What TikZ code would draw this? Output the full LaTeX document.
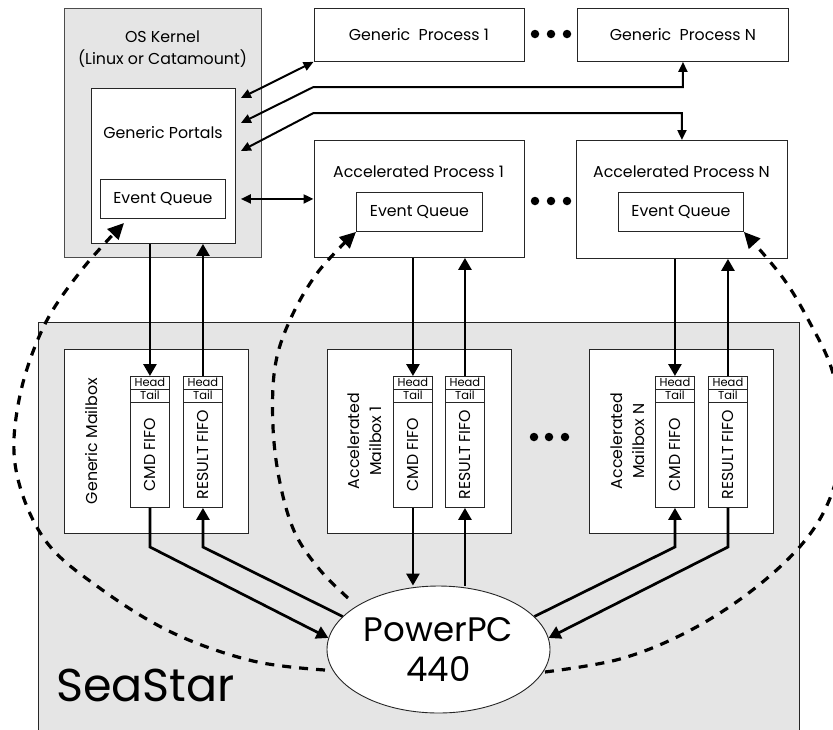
\documentclass[tikz,border=0pt]{standalone}
\usepackage{fontspec}
\setmainfont{Poppins}
\usetikzlibrary{arrows.meta,shapes.geometric,calc}
\definecolor{seagray}{RGB}{229,229,229}
\newcommand{\fifobox}[3]{%
  \node[box,minimum width=39pt,minimum height=131pt] (#1) at (#2,376) {};
  \draw[rowline] ([yshift=-13pt]#1.north west) -- ([yshift=-13pt]#1.north east);
  \draw[rowline] ([yshift=-26pt]#1.north west) -- ([yshift=-26pt]#1.north east);
  \node[tiny] (#1h) at ([yshift=-6.5pt]#1.north) {Head};
  \node[tiny] (#1t) at ([yshift=-19.5pt]#1.north) {Tail};
  \node[lbl,rotate=90] (#1l) at ([yshift=-78.5pt]#1.north) {#3};
}
\begin{document}
\begin{tikzpicture}[x=1pt,y=-1pt,
  box/.style={draw=black!85,line width=0.9pt,fill=white,inner sep=0pt,anchor=north west},
  rowline/.style={draw=black!85,line width=0.9pt},
  lbl/.style={font=\fontsize{15.8}{22}\selectfont,inner sep=0pt,align=center},
  tiny/.style={font=\fontsize{11.5}{12}\selectfont,inner sep=0pt},
  arr/.style={line width=2.7pt,-{Triangle[length=12pt,width=13pt]}},
  darr/.style={line width=2pt,{Triangle[length=10pt,width=9pt]}-{Triangle[length=10pt,width=9pt]}},
  dsh/.style={line width=3.2pt,dash pattern=on 9pt off 8pt,-{Triangle[length=16pt,width=15pt]}},
  dotn/.style={circle,fill=black,inner sep=0pt,minimum size=8.5pt}]
\useasboundingbox (0,0) rectangle (833,729);
% SeaStar chip
\node[box,fill=seagray,minimum width=761pt,minimum height=420pt] (seastar) at (38,322) {};
\node[font=\fontsize{46}{50}\selectfont,anchor=west,inner sep=0pt] (sst) at (56,685) {SeaStar};
% OS kernel
\node[box,fill=seagray,draw=black!70,minimum width=197pt,minimum height=249pt] (kernel) at (64,8) {};
\node[lbl] (kt) at (162.5,49) {OS Kernel\\(Linux or Catamount)};
\node[box,minimum width=144pt,minimum height=155pt] (portals) at (91,88) {};
\node[lbl] (pt) at (163,133) {Generic Portals};
\node[box,minimum width=125pt,minimum height=39pt] (eqk) at (100,179) {};
\node[lbl] at (eqk.center) {Event Queue};
% processes
\node[box,minimum width=210pt,minimum height=53pt] (gp1) at (313.5,8) {};
\node[lbl] at (gp1.center) {Generic\ \ Process 1};
\node[box,minimum width=211pt,minimum height=53pt] (gpn) at (577,8) {};
\node[lbl] at (gpn.center) {Generic\ \ Process N};
\node[box,minimum width=210pt,minimum height=117pt] (ap1) at (313.5,140) {};
\node[lbl] (ap1t) at (418.5,172) {Accelerated Process 1};
\node[box,minimum width=126pt,minimum height=39pt] (eq1) at (356,192) {};
\node[lbl] at (eq1.center) {Event Queue};
\node[box,minimum width=211pt,minimum height=118pt] (apn) at (576,140) {};
\node[lbl] (apnt) at (681.5,172) {Accelerated Process N};
\node[box,minimum width=125pt,minimum height=39pt] (eqn) at (618,192) {};
\node[lbl] at (eqn.center) {Event Queue};
% dots
\foreach \i/\x in {1/535,2/551,3/567}{
  \node[dotn] (dt\i) at (\x,34) {};
  \node[dotn] (dm\i) at (\x,201) {};
}
\foreach \i/\x in {1/534,2/549,3/565}{
  \node[dotn] (db\i) at (\x,437) {};
}
% mailboxes
\node[box,minimum width=184pt,minimum height=184pt] (mbg) at (64,349) {};
\node[lbl,rotate=90] (mbgt) at (92,441) {Generic Mailbox};
\node[box,minimum width=184pt,minimum height=184pt] (mb1) at (327,349) {};
\node[lbl,rotate=90] (mb1t) at (365,441) {Accelerated\\Mailbox 1};
\node[box,minimum width=184pt,minimum height=184pt] (mbn) at (589,349) {};
\node[lbl,rotate=90] (mbnt) at (627.5,441) {Accelerated\\Mailbox N};
\fifobox{cmdg}{130}{CMD FIFO}
\fifobox{resg}{183}{RESULT FIFO}
\fifobox{cmd1}{393}{CMD FIFO}
\fifobox{res1}{445}{RESULT FIFO}
\fifobox{cmdn}{655}{CMD FIFO}
\fifobox{resn}{708}{RESULT FIFO}
% dashed event paths
\draw[dsh] plot[smooth,tension=0.6] coordinates {(325,670) (253,661) (173,633) (101,589) (45,540) (16,470) (19,400) (43,328) (80,272) (124,223)};
\draw[dsh] plot[smooth,tension=0.6] coordinates {(348,598) (320,570) (295,533) (280,483) (273,427) (275,367) (290,320) (318,272) (eq1.south west)};
\draw[dsh] plot[smooth,tension=0.6] coordinates {(545,672) (620,659) (687,632) (750,592) (803,543) (832,493) (844,431) (832,370) (810,323) (783,278) (eqn.south east)};
% PowerPC
\node[draw=black!85,line width=0.9pt,fill=white,ellipse,minimum width=223pt,minimum height=127pt,inner sep=0pt,
  font=\fontsize{34}{40}\selectfont,align=center] (ppc) at (438.5,649.5) {PowerPC\\440};
% kernel <-> processes
\coordinate (k2) at (313.5,87);
\coordinate (k3) at (313.5,113);
\draw[darr] ([shift={(5,10)}]portals.north east) -- (gp1.south west);
\draw[darr] ([shift={(5,35)}]portals.north east) -- (k2) -- (k2 -| gpn.south) -- (gpn.south);
\draw[darr] ([shift={(5,63)}]portals.north east) -- (k3) -- (k3 -| apn.north) -- (apn.north);
\draw[darr] ($(portals.east |- eqk.east)+(5,0)$) -- (ap1.west |- eqk.east);
% processes -> mailboxes
\draw[arr] (portals.south -| cmdg.north) -- (cmdg.north);
\draw[arr] (resg.north) -- (portals.south -| resg.north);
\draw[arr] (ap1.south -| cmd1.north) -- (cmd1.north);
\draw[arr] (res1.north) -- (ap1.south -| res1.north);
\draw[arr] (apn.south -| cmdn.north) -- (cmdn.north);
\draw[arr] (resn.north) -- (apn.south -| resn.north);
% mailboxes <-> PowerPC
\coordinate (bend) at (0,547);
\draw[arr] (cmdg.south) -- (bend -| cmdg.south) -- (ppc.174);
\draw[arr] (ppc.161) -- (bend -| resg.south) -- (resg.south);
\draw[arr] (cmd1.south) -- (cmd1.south |- ppc.north);
\draw[arr] (res1.south |- ppc.north) -- (res1.south);
\draw[arr] (ppc.19) -- (bend -| cmdn.south) -- (cmdn.south);
\draw[arr] (resn.south) -- (bend -| resn.south) -- (ppc.6);
\end{tikzpicture}
\end{document}
